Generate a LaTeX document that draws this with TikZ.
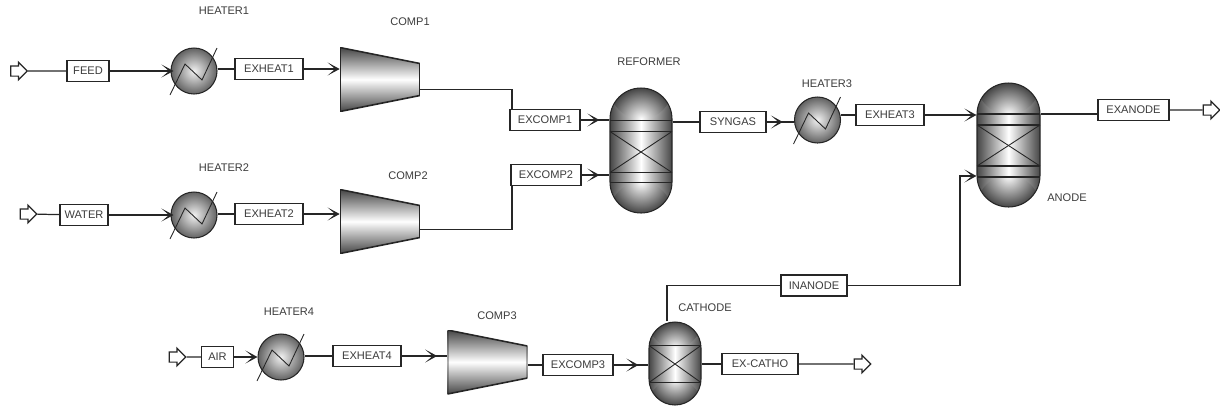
\documentclass[tikz,border=0pt]{standalone}
\usepackage{fontspec}
\setmainfont{Liberation Sans}
\usepackage{xcolor}
\usetikzlibrary{shapes.geometric, shapes.arrows, arrows.meta, decorations.markings}
\definecolor{inktext}{RGB}{60, 60, 60}
\definecolor{steeldark}{RGB}{70, 70, 70}
\definecolor{steelmid}{RGB}{120, 120, 120}

\begin{document}
\begin{tikzpicture}[
    x=0.02cm, y=-0.02cm,
    font=\fontsize{6.3pt}{7.5pt}\selectfont,
    stream/.style={rectangle, draw=black!85, fill=white, minimum width=#1*0.02cm, minimum height=0.42cm,
                inner sep=0pt, text=inktext, line width=0.7pt},
    tagname/.style={inner sep=0pt, text=inktext},
    port/.style={single arrow, draw=black!85, fill=white, inner sep=0pt, line width=0.7pt, text height=0.18cm, text depth=0pt,
                minimum height=0.33cm, single arrow head extend=0.075cm},
    heater/.style={circle, draw=black!85, minimum size=0.92cm, inner sep=0pt,
                inner color=white!90!steelmid, outer color=steeldark!85!white, line width=0.6pt},
    comp/.style={rectangle, minimum width=1.6cm, minimum height=1.28cm, inner sep=0pt,
                path picture={
                    \draw[line width=0.9pt, draw=black!85, top color=steeldark, bottom color=steeldark, middle color=white]
                        (path picture bounding box.north west) -- ([yshift=-0.32cm]path picture bounding box.north east)
                        -- ([yshift=0.32cm]path picture bounding box.south east) -- (path picture bounding box.south west) -- cycle;
                }},
    reactor/.style n args={3}{rectangle, rounded corners=#1cm, draw=black!85, minimum width=#2cm, minimum height=#3cm,
                inner sep=0pt, left color=steeldark, right color=steeldark, middle color=white, line width=0.6pt,
                path picture={
                    \begin{scope}
                    \clip (path picture bounding box.north west) rectangle ([yshift=-#1cm]path picture bounding box.north east);
                    \shade[inner color=white, outer color=steeldark] ([yshift=-#1cm]path picture bounding box.north) circle (#1cm);
                    \end{scope}
                    \begin{scope}
                    \clip (path picture bounding box.south west) rectangle ([yshift=#1cm]path picture bounding box.south east);
                    \shade[inner color=white, outer color=steeldark] ([yshift=#1cm]path picture bounding box.south) circle (#1cm);
                    \end{scope}
                }},
    line/.style={draw=black!85, line width=0.7pt},
    tip/.style={-{Stealth[length=0.24cm, width=0.26cm, inset=0.15cm]}},
    midtip/.style={decoration={markings, mark=at position #1 with {\arrow{Stealth[length=0.24cm, width=0.26cm, inset=0.15cm]}}}, postaction={decorate}}
]
\useasboundingbox (0,0) rectangle (1220,407);

% top row
\node[port] (feedin) at (16.5,71) {};
\node[stream=42] (feed) at (88,71) {FEED};
\node[heater] (heater1) at (194,71) {};
\node[stream=68] (exheat1) at (269,69) {EXHEAT1};
\node[comp] (comp1) at (380,79.5) {};

% second row
\node[port] (waterin) at (26,214) {};
\node[stream=48] (water) at (84,215) {WATER};
\node[heater] (heater2) at (194,215) {};
\node[stream=68] (exheat2) at (269,214) {EXHEAT2};
\node[comp] (comp2) at (380,221.5) {};

% reformer and anode
\node[stream=70] (excomp1) at (545,120) {EXCOMP1};
\node[stream=70] (excomp2) at (546,175) {EXCOMP2};
\node[reactor={0.62}{1.24}{2.5}] (reformer) at (641,150.5) {};
\node[stream=66] (syngas) at (733,122) {SYNGAS};
\node[heater] (heater3) at (817.5,120) {};
\node[stream=68] (exheat3) at (890,115) {EXHEAT3};
\node[reactor={0.63}{1.26}{2.48}] (anode) at (1008.5,145) {};
\node[stream=71] (exanode) at (1133.5,110) {EXANODE};
\node[port] (exanodeout) at (1209,110) {};

% bottom row
\node[port] (airin) at (175,357) {};
\node[stream=32] (air) at (217.5,357) {AIR};
\node[heater] (heater4) at (281,357) {};
\node[stream=68] (exheat4) at (367,356) {EXHEAT4};
\node[comp] (comp3) at (487.5,362) {};
\node[stream=70] (excomp3) at (578,365) {EXCOMP3};
\node[reactor={0.52}{1.04}{1.66}] (cathode) at (675,363.5) {};
\node[stream=76] (excatho) at (760,364) {EX-CATHO};
\node[port] (excathoout) at (860,364) {};
\node[stream=66] (inanode) at (814,285.5) {INANODE};

% names
\node[tagname] (heater1txt) at (224,11) {HEATER1};
\node[tagname] (comp1txt) at (410,22) {COMP1};
\node[tagname] (heater2txt) at (224,168) {HEATER2};
\node[tagname] (comp2txt) at (408,176) {COMP2};
\node[tagname] (reformertxt) at (649,62) {REFORMER};
\node[tagname] (heater3txt) at (827,84) {HEATER3};
\node[tagname] (anodetxt) at (1067,198) {ANODE};
\node[tagname] (cathodetxt) at (705,308) {CATHODE};
\node[tagname] (heater4txt) at (289,312) {HEATER4};
\node[tagname] (comp3txt) at (497,316) {COMP3};

% vessel internals
\foreach \vessel/\hw/\a/\b/\c/\d in {reformer/31/-30/-19/22/32, anode/31.5/-31/-20/21/32, cathode/26/-18/-18/19/19} {
    \draw[line] ([shift={(-\hw,\a)}]\vessel.center) -- ([shift={(\hw,\a)}]\vessel.center);
    \draw[line] ([shift={(-\hw,\b)}]\vessel.center) -- ([shift={(\hw,\b)}]\vessel.center);
    \draw[line] ([shift={(-\hw,\c)}]\vessel.center) -- ([shift={(\hw,\c)}]\vessel.center);
    \draw[line] ([shift={(-\hw,\d)}]\vessel.center) -- ([shift={(\hw,\d)}]\vessel.center);
    \draw[line, line width=0.5pt] ([shift={(-\hw,\b)}]\vessel.center) -- ([shift={(\hw,\c)}]\vessel.center);
    \draw[line, line width=0.5pt] ([shift={(-\hw,\c)}]\vessel.center) -- ([shift={(\hw,\b)}]\vessel.center);
}

% heater coils
\foreach \unit in {heater1, heater2, heater3, heater4} {
    \draw[line, line width=0.5pt] ([shift={(-24,24)}]\unit.center) -- ([shift={(-9,-7)}]\unit.center)
        -- ([shift={(8,9)}]\unit.center) -- ([shift={(23,-23)}]\unit.center);
}

\draw[line] (feedin) -- (feed);
\draw[line, tip, shorten >=-0.06cm] (feed) -- (heater1);
\draw[line] (heater1.east |- exheat1) -- (exheat1);
\draw[line, tip] (exheat1) -- (exheat1 -| comp1.west);
\draw[line] ([yshift=-0.2cm]comp1.east) -| (excomp1.north -| 512,0);

\draw[line] (waterin) -- (water);
\draw[line, tip, shorten >=-0.06cm] (water) -- (heater2);
\draw[line] (heater2.east |- exheat2) -- (exheat2);
\draw[line, tip] (exheat2) -- (exheat2 -| comp2.west);
\draw[line] ([yshift=-0.16cm]comp2.east) -| (excomp2.south -| 512,0);

\draw[line, midtip=-0.2cm] (excomp1) -- (excomp1 -| reformer.west);
\draw[line, midtip=-0.2cm] (excomp2) -- (excomp2 -| reformer.west);
\draw[line] (reformer.east |- syngas) -- (syngas);
\draw[line, midtip=-0.22cm] (syngas) -- (syngas -| heater3.west);
\draw[line] (heater3.east |- exheat3) -- (exheat3);
\draw[line, tip] (exheat3) -- (exheat3 -| anode.west);
\draw[line] (anode.east |- 0,114) -- (exanode.west |- 0,114);
\draw[line] (exanode) -- (exanodeout);

\draw[line] (airin) -- (air);
\draw[line, tip] (air) -- (heater4);
\draw[line] (heater4.east |- exheat4) -- (exheat4);
\draw[line, midtip=-0.2cm] (exheat4) -- (exheat4 -| comp3.west);
\draw[line] (comp3.east |- excomp3) -- (excomp3);
\draw[line, midtip=-0.2cm] (excomp3) -- (excomp3 -| cathode.west);
\draw[line] (cathode.east |- excatho) -- (excatho);
\draw[line] (excatho) -- (excathoout);
\draw[line] (cathode.north -| 667,0) |- (inanode);
\draw[line, tip] (inanode) -| (960,176) -- (anode.west |- 0,176);
\end{tikzpicture}
\end{document}
